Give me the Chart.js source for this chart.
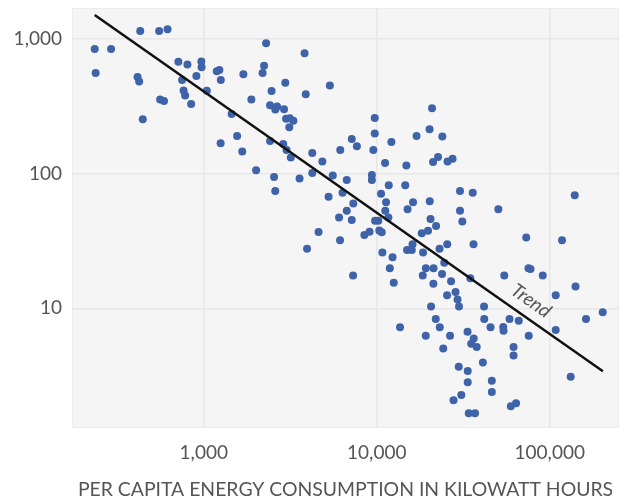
<!DOCTYPE html>
<html>
<head>
<meta charset="utf-8">
<script src="https://cdn.jsdelivr.net/npm/chart.js@4"></script>
<style>
html,body{margin:0;padding:0;background:#fff;}
canvas{display:block;}
</style>
</head>
<body>
<canvas id="c" width="625" height="504"></canvas>
<script>
// per capita energy consumption (kWh) and the y value for each country
const consumption=[234,291,237,414,423,429,552,617,444,559,
589,713,804,968,971,906,749,764,780,845,
1041,1189,1231,1254,1694,1884,1448,1558,1251,1669,
2187,2231,2292,2466,2959,2416,2653,2590,2912,2990,
3141,3296,3121,2416,2881,3010,3184,4238,4847,2006,
2549,2590,3579,4238,3825,3886,5357,6152,7170,7674,
9737,9737,9557,12147,16982,20200,20880,23940,11170,14830,
21160,22610,25660,27430,5568,6708,9370,9370,5265,6342,
7316,6708,6055,7170,10590,11730,14610,11320,16210,20250,
11200,15070,30300,35880,30300,50460,139500,9777,10210,11670,
20460,31240,4608,3954,8480,9087,10340,10690,18200,19790,
22020,6135,16100,14970,15940,18520,23070,25560,36260,10780,
12340,11900,19220,21300,24560,18450,23850,7295,12540,21250,
26890,34750,73140,117800,54580,75420,77450,91110,141000,108300,
25500,28540,29310,29900,20600,41720,21930,41830,23140,45480,
13630,19200,26530,33480,36360,35170,37840,24230,41060,29790,
33570,33570,46270,46270,30830,27790,34030,37000,53850,54080,
58560,66200,75610,108300,162100,202500,61780,61780,59580,63860,132200];
const rate=[843,843,559,522,483,1147,1147,1180,253,355,
346,678,647,681,617,531,496,414,380,329,
413,575,589,496,547,355,277,190,168,146,
559,634,930,411,474,322,315,300,301,256,
258,247,221,175,166,150,132,142,123,106,
94.4,74.3,92,101,785,389,452,150,181,160,
259,199,150,172,190,214,306,189,120,115,
122,133,123,129,96.9,89.7,97.7,89.7,67.3,72.2,
60,53,47.2,45.3,70.9,81.9,81.9,61.3,61.4,62.3,
53,54.4,74.3,72.2,53,54.4,69.1,44.7,44.7,47.2,
46,44.1,36.9,27.7,35,37,37.8,36.7,36.1,37.7,
40.8,32,29.9,27.1,27.1,25.9,27.7,29.9,29.9,25.9,
23.9,19.8,19.8,19.8,21.8,17.5,18,17.5,15.5,15.2,
15.9,16.7,33.6,32,17.5,19.8,19.6,17.5,14.5,12.5,
12.5,13.2,11.6,10.3,10.3,10.3,8.33,8.33,7.22,7.22,
7.22,6.25,6.25,6.7,5.95,5.46,5.16,5.03,3.96,3.68,
3.42,2.82,2.89,2.39,2.27,2.07,1.66,1.66,7.26,6.82,
8.33,8.09,6.25,6.88,8.33,9.34,5.16,4.45,1.87,1.97,3.1];

const trendX=[234,203000];
const trendY=[1507,3.4];
const trendLabel='Trend';

const xTicks=[1000,10000,100000];
const yTicks=[10,100,1000];
const xTitle='PER CAPITA ENERGY CONSUMPTION IN KILOWATT HOURS';

const FONT='Lato, "Noto Sans", sans-serif';
const GRID='#e7e7e7';

const plotBg={
  id:'plotBg',
  beforeDraw(c){
    const a=c.chartArea,ctx=c.ctx;
    ctx.save();
    ctx.fillStyle='#f5f5f5';
    ctx.fillRect(a.left,a.top,a.right-a.left,a.bottom-a.top);
    ctx.strokeStyle='#ececec';
    ctx.lineWidth=1;
    ctx.strokeRect(a.left+0.5,a.top+0.5,a.right-a.left-1,a.bottom-a.top-1);
    ctx.restore();
  }
};

const trendText={
  id:'trendText',
  afterDatasetsDraw(c){
    const xs=c.scales.x,ys=c.scales.y,ctx=c.ctx;
    const x1=xs.getPixelForValue(trendX[0]),y1=ys.getPixelForValue(trendY[0]);
    const x2=xs.getPixelForValue(trendX[1]),y2=ys.getPixelForValue(trendY[1]);
    const ang=Math.atan2(y2-y1,x2-x1);
    const t=0.84;
    const px=x1+(x2-x1)*t,py=y1+(y2-y1)*t;
    ctx.save();
    ctx.translate(px,py);
    ctx.rotate(ang);
    ctx.fillStyle='#555';
    ctx.font='italic 19px '+FONT;
    ctx.textAlign='center';
    ctx.textBaseline='bottom';
    ctx.fillText(trendLabel,0,-7);
    ctx.restore();
  }
};

new Chart(document.getElementById('c'),{
  type:'scatter',
  data:{
    datasets:[
      {
        label:'Trend',
        type:'line',
        data:trendX.map((x,i)=>({x:x,y:trendY[i]})),
        borderColor:'#111',
        borderWidth:2.5,
        pointRadius:0,
        fill:false,
        order:0
      },
      {
        label:'Countries',
        data:consumption.map((x,i)=>({x:x,y:rate[i]})),
        backgroundColor:'#3f63a9',
        borderWidth:0,
        pointRadius:4,
        order:1
      }
    ]
  },
  options:{
    responsive:false,
    animation:false,
    layout:{padding:{top:8,right:6,left:0,bottom:0}},
    plugins:{legend:{display:false},tooltip:{enabled:false}},
    scales:{
      x:{
        type:'logarithmic',
        min:173,max:251500,
        afterBuildTicks:s=>{s.ticks=xTicks.map(v=>({value:v}));},
        afterFit:s=>{s.height=76;s.paddingLeft=0;s.paddingRight=0;},
        grid:{color:GRID,lineWidth:1.5,drawTicks:false},
        border:{display:false},
        ticks:{padding:13,color:'#555',font:{family:FONT,size:19},
          callback:v=>Number(v).toLocaleString('en-US'),maxRotation:0},
        title:{display:true,text:xTitle,color:'#555',font:{family:FONT,size:19.4},padding:{top:0,bottom:3}}
      },
      y:{
        type:'logarithmic',
        min:1.29,max:1699,
        afterBuildTicks:s=>{s.ticks=yTicks.map(v=>({value:v}));},
        afterFit:s=>{s.width=72;s.paddingTop=0;s.paddingBottom=0;},
        grid:{color:GRID,lineWidth:1.5,drawTicks:false},
        border:{display:false},
        ticks:{padding:10,color:'#555',font:{family:FONT,size:19},
          callback:v=>Number(v).toLocaleString('en-US')}
      }
    }
  },
  plugins:[plotBg,trendText]
});
</script>
</body>
</html>
